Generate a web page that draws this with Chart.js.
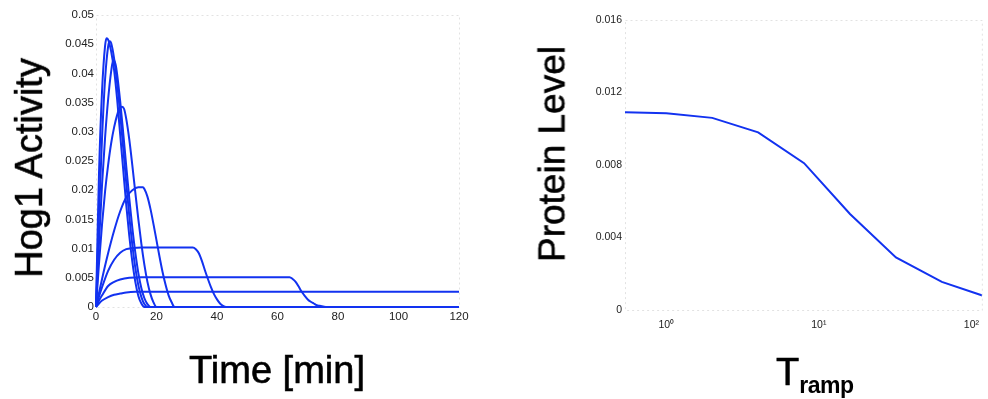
<!DOCTYPE html>
<html>
<head>
<meta charset="utf-8">
<script src="https://cdn.jsdelivr.net/npm/chart.js@4.4.0/dist/chart.umd.min.js"></script>
<style>
  body { margin: 0; background: #fff; width: 988px; height: 399px; overflow: hidden; position: relative;
         font-family: "Liberation Sans", Arial, sans-serif; }
  canvas { position: absolute; top: 0; }
  #hogChart { left: 0; }
  #proteinChart { left: 500px; }
  .title { position: absolute; color: #000; white-space: nowrap; line-height: 1; -webkit-text-stroke: 0.6px #000; }
  .vert { transform: translate(-50%, -50%) rotate(-90deg); }
</style>
</head>
<body>
<canvas id="hogChart" width="500" height="399"></canvas>
<canvas id="proteinChart" width="488" height="399"></canvas>

<div class="title vert" style="left:29px; top:168px; font-size:38px;">Hog1 Activity</div>
<div class="title" style="left:277px; top:351px; font-size:38px; transform:translateX(-50%);">Time [min]</div>
<div class="title vert" style="left:552px; top:154px; font-size:37px;">Protein Level</div>
<div class="title" style="left:776px; top:353px; font-size:38px;">T<span style="font-size:23px; font-weight:bold; position:relative; top:8px; letter-spacing:-0.5px; -webkit-text-stroke:0;">ramp</span></div>

<script>
// Hog1 activity vs time, one trace per ramp duration (min)
const ramp1T = [0, 0.5, 1, 2, 3, 3.5, 4, 5, 6, 7, 8, 9, 10, 11, 12, 13, 14, 15, 16, 120];
const ramp1V = [0, 0.012, 0.023, 0.037, 0.0447, 0.046, 0.0458, 0.0438, 0.0405, 0.0355, 0.0295, 0.0235, 0.0175, 0.0122, 0.0078, 0.0043, 0.0019, 0.0006, 0, 0];

const ramp2T = [0, 1, 2, 3, 4, 4.5, 5, 6, 7, 8, 9, 10, 11, 12, 13, 14, 15, 16, 17, 120];
const ramp2V = [0, 0.016, 0.029, 0.039, 0.0446, 0.0455, 0.0452, 0.0425, 0.0383, 0.033, 0.0272, 0.0212, 0.0156, 0.0107, 0.0067, 0.0037, 0.0017, 0.0005, 0, 0];

const ramp4T = [0, 1, 2, 3, 4, 5, 5.7, 6.5, 7, 8, 9, 10, 11, 12, 13, 14, 15, 16, 17, 18, 120];
const ramp4V = [0, 0.011, 0.021, 0.029, 0.0355, 0.0403, 0.0423, 0.0415, 0.0398, 0.0352, 0.0298, 0.0241, 0.0186, 0.0136, 0.0093, 0.0058, 0.0032, 0.0015, 0.0005, 0, 0];

const ramp8T = [0, 1, 2, 3, 4, 5, 6, 7, 7.8, 8.6, 9.3, 10, 11, 12, 13, 14, 15, 16, 17, 18, 19, 20, 120];
const ramp8V = [0, 0.0075, 0.0142, 0.0198, 0.0243, 0.028, 0.0308, 0.0329, 0.0341, 0.0343, 0.0339, 0.0322, 0.0287, 0.0243, 0.0196, 0.015, 0.0108, 0.0072, 0.0043, 0.0022, 0.0008, 0, 0];

const ramp16T = [0, 2, 4, 6, 8, 10, 12, 14, 15.5, 16, 17, 18, 19, 20, 21, 22, 23, 24, 25, 26, 120];
const ramp16V = [0, 0.0048, 0.0092, 0.0131, 0.0164, 0.0188, 0.02, 0.0205, 0.0205, 0.0202, 0.0189, 0.0168, 0.0142, 0.0114, 0.0086, 0.006, 0.0038, 0.002, 0.0008, 0, 0];

const ramp32T = [0, 1, 2, 4, 6, 8, 10, 12, 15, 20, 32, 33, 34, 35, 36, 37, 38, 39, 40, 41, 42, 43, 120];
const ramp32V = [0, 0.0018, 0.0034, 0.0062, 0.0081, 0.0093, 0.0099, 0.0101, 0.0102, 0.0102, 0.0102, 0.0099, 0.0092, 0.0079, 0.0063, 0.0048, 0.0034, 0.0022, 0.0013, 0.0006, 0.0002, 0, 0];

const ramp64T = [0, 1, 2, 4, 6, 8, 11, 15, 20, 64, 65, 66, 67, 68, 69, 70, 71, 72, 73, 74, 76, 120];
const ramp64V = [0, 0.0011, 0.002, 0.0036, 0.0043, 0.0047, 0.005, 0.0051, 0.0051, 0.0051, 0.0048, 0.0043, 0.0035, 0.0026, 0.0019, 0.0013, 0.0009, 0.0006, 0.0003, 0.0002, 0, 0];

const ramp128T = [0, 1, 2, 4, 6, 8, 10, 13, 16, 120];
const ramp128V = [0, 0.0006, 0.0011, 0.0017, 0.0021, 0.0023, 0.0025, 0.0026, 0.0026, 0.0026];

// Protein level at the end of each ramp
const rampDurations = [0.5, 1, 2, 4, 8, 16, 32, 64, 128];
const proteinLevel = [0.01092, 0.01085, 0.0106, 0.0098, 0.0081, 0.0053, 0.0029, 0.00155, 0.0007];

const rampTicks = [1, 10, 100];
const rampTickLabels = ['10\u2070', '10\u00b9', '10\u00b2'];

const blue = '#1232f0';
const fontFamily = '"Liberation Sans", Arial, sans-serif';

const traces = [
    [ramp1T, ramp1V], [ramp2T, ramp2V], [ramp4T, ramp4V], [ramp8T, ramp8V],
    [ramp16T, ramp16V], [ramp32T, ramp32V], [ramp64T, ramp64V], [ramp128T, ramp128V]
];

// faint dotted box around the plot area
const frame = {
    id: 'frame',
    beforeDatasetsDraw(chart) {
        const { ctx, chartArea: a } = chart;
        ctx.save();
        ctx.strokeStyle = '#e2e2e2';
        ctx.lineWidth = 1;
        ctx.setLineDash([2, 3]);
        ctx.strokeRect(a.left + 0.5, a.top + 0.5, a.right - a.left, a.bottom - a.top);
        ctx.restore();
    }
};

new Chart(document.getElementById('hogChart'), {
    type: 'line',
    data: {
        datasets: traces.map(([t, v]) => ({
            data: t.map((x, i) => ({ x: x, y: v[i] })),
            borderColor: blue,
            borderWidth: 2,
            pointRadius: 0,
            fill: false,
            cubicInterpolationMode: 'monotone',
            clip: 4
        }))
    },
    options: {
        responsive: false,
        animation: false,
        layout: { padding: { top: 15, right: 41, left: 0, bottom: 0 } },
        plugins: { legend: { display: false }, tooltip: { enabled: false } },
        scales: {
            x: {
                type: 'linear',
                min: 0,
                max: 120,
                afterFit: (s) => { s.height = 92; },
                grid: { display: false, drawTicks: false },
                border: { display: false },
                ticks: { stepSize: 20, maxRotation: 0, padding: 3, color: '#222', font: { family: fontFamily, size: 11.5 } }
            },
            y: {
                min: 0,
                max: 0.05,
                afterFit: (s) => { s.width = 96; },
                grid: { display: false, drawTicks: false },
                border: { display: false },
                ticks: {
                    stepSize: 0.005,
                    padding: 2,
                    color: '#222',
                    font: { family: fontFamily, size: 11.5 },
                    callback: (value) => String(+value.toFixed(3))
                }
            }
        }
    },
    plugins: [frame]
});

new Chart(document.getElementById('proteinChart'), {
    type: 'line',
    data: {
        datasets: [{
            data: rampDurations.map((x, i) => ({ x: x, y: proteinLevel[i] })),
            borderColor: blue,
            borderWidth: 2,
            pointRadius: 0,
            fill: false,
            tension: 0
        }]
    },
    options: {
        responsive: false,
        animation: false,
        layout: { padding: { top: 20, right: 0, left: 0, bottom: 0 } },
        plugins: { legend: { display: false }, tooltip: { enabled: false } },
        scales: {
            x: {
                type: 'logarithmic',
                min: 0.536,
                max: 117,
                afterFit: (s) => { s.height = 89; },
                afterBuildTicks: (s) => { s.ticks = rampTicks.map(v => ({ value: v })); },
                grid: { display: false, drawTicks: false },
                border: { display: false },
                ticks: {
                    maxRotation: 0,
                    autoSkip: false,
                    padding: 9,
                    color: '#222',
                    font: { family: fontFamily, size: 10.5 },
                    callback: (value, index) => rampTickLabels[index]
                }
            },
            y: {
                min: 0,
                max: 0.016,
                afterFit: (s) => { s.width = 125; },
                grid: { display: false, drawTicks: false },
                border: { display: false },
                ticks: {
                    stepSize: 0.004,
                    padding: 3,
                    color: '#222',
                    font: { family: fontFamily, size: 10.5 },
                    callback: (value) => value === 0 ? '0' : value.toFixed(3)
                }
            }
        }
    },
    plugins: [frame]
});
</script>
</body>
</html>
